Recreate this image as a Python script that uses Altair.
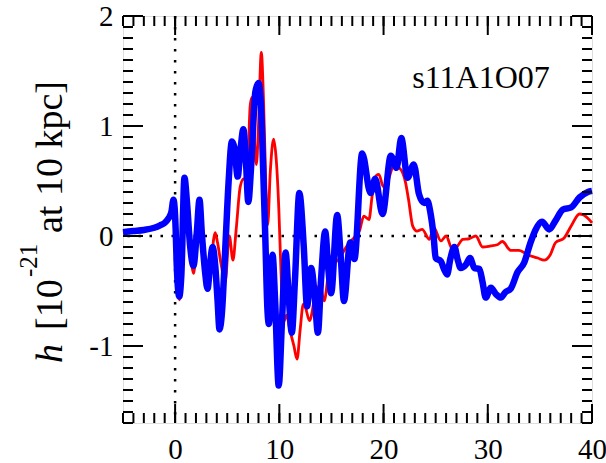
import altair as alt
import pandas as pd
import numpy as np

# ---- data ----
blue_t = [-5, -4, -3, -2, -1.44, -1, -0.64, -0.35, -0.16, 0.05,
          0.15, 0.4, 0.6, 0.9, 1.12, 1.44, 1.76, 2.08, 2.34, 2.56,
          2.88, 3.11, 3.37, 3.59, 3.85, 4.07, 4.26, 4.49, 4.81, 5.13,
          5.45, 5.7, 6.0, 6.25, 6.55, 6.8, 7.02, 7.3, 7.7, 8.0,
          8.27, 8.45, 8.65, 8.85, 9.0, 9.35, 9.6, 9.94, 10.26, 10.6,
          10.9, 11.2, 11.5, 11.92, 12.34, 12.66, 13.05, 13.4, 13.7, 14.0,
          14.4, 14.7, 14.97, 15.55, 15.9, 16.2, 16.8, 17.2, 17.95, 18.75,
          19.2, 19.9, 20.7, 21.25, 21.7, 22.3, 22.9, 23.4, 23.9, 24.2,
          24.5, 24.8, 25.0, 25.5, 25.8, 26.1, 26.4, 26.8, 27.1, 27.4,
          27.9, 28.3, 28.7, 29.2, 29.5, 29.8, 30.3, 30.8, 31.25, 31.7,
          32.2, 32.85, 33.5, 34.1, 34.6, 35.2, 35.9, 36.5, 37.2, 38.0,
          38.8, 39.6, 40]
blue_h = [0.035, 0.045, 0.055, 0.075, 0.097, 0.12, 0.16, 0.22, 0.33, 0.07,
          -0.25, -0.55, -0.35, 0.53, 0.33, -0.09, -0.27, 0.03, 0.33, 0.03,
          -0.33, -0.48, -0.24, -0.1, -0.27, -0.58, -0.85, -0.7, -0.12, 0.49,
          0.86, 0.8, 0.54, 0.76, 0.97, 0.67, 0.31, 0.64, 1.31, 1.39,
          1.12, 0.6, 0.0, -0.65, -0.8, -0.17, -0.6, -1.36, -0.76, -0.15,
          -0.55, -0.88, -0.4, 0.39, -0.09, -0.64, -0.29, -0.55, -0.88, -0.4,
          0.04, -0.3, -0.52, 0.19, -0.2, -0.59, -0.06, -0.21, 0.75, 0.39,
          0.52, 0.2, 0.73, 0.62, 0.89, 0.53, 0.65, 0.38, 0.3, 0.32,
          0.21, 0.0, -0.2, -0.23, -0.3, -0.35, -0.21, -0.1, -0.21, -0.29,
          -0.26, -0.2, -0.29, -0.3, -0.42, -0.56, -0.47, -0.53, -0.56, -0.51,
          -0.48, -0.33, -0.24, -0.06, 0.06, 0.13, 0.06, 0.14, 0.24, 0.26,
          0.35, 0.4, 0.41]

red_t = [-5, -4, -3, -2, -1.44, -1, -0.64, -0.35, -0.16, 0.05,
         0.15, 0.42, 0.6, 0.9, 1.12, 1.44, 1.78, 2.08, 2.34, 2.56,
         2.88, 3.11, 3.4, 3.85, 4.07, 4.4, 4.81, 5.2, 5.55, 5.85,
         6.25, 6.57, 6.9, 7.2, 7.37, 7.5, 7.8, 8.0, 8.27, 8.5,
         8.72, 8.88, 9.13, 9.45, 9.7, 9.95, 10.15, 10.4, 10.7, 11.0,
         11.4, 11.7, 12.0, 12.3, 12.5, 12.9, 13.5, 13.9, 14.3, 14.7,
         15.07, 15.7, 16.1, 16.5, 17.3, 17.7, 18.1, 18.6, 18.9, 19.3,
         19.55, 19.97, 20.4, 21.0, 21.6, 22.1, 22.4, 22.8, 23.2, 23.7,
         24.4, 24.8, 25.5, 26.0, 26.6, 27.1, 27.6, 28.2, 28.85, 29.5,
         30.3, 30.9, 31.4, 32.2, 33.0, 33.8, 34.8, 35.4, 36.0, 36.5,
         37.3, 38.0, 38.8, 39.2, 40]
red_h = [0.035, 0.045, 0.055, 0.075, 0.097, 0.12, 0.16, 0.22, 0.32, 0.07,
         -0.25, -0.58, -0.38, 0.5, 0.3, -0.12, -0.34, 0.0, 0.3, 0.0,
         -0.35, -0.48, -0.28, 0.03, -0.06, -0.25, -0.41, 0.0, -0.22, 0.05,
         0.45, 0.52, 0.49, 1.18, 1.26, 1.06, 0.65, 1.0, 1.67, 1.18,
         0.42, 0.1, 0.58, 0.88, 0.7, 0.25, -0.3, -0.78, -0.72, -0.85,
         -1.0, -1.12, -0.85, -0.62, -0.65, -0.77, -0.51, -0.45, -0.59, -0.35,
         -0.17, -0.23, -0.15, -0.09, 0.0, 0.05, 0.18, 0.15, 0.36, 0.55,
         0.56, 0.45, 0.5, 0.64, 0.61, 0.49, 0.33, 0.09, 0.045, 0.06,
         -0.03, 0.08, -0.045, 0.0, -0.12, -0.09, -0.03, -0.025, 0.0, -0.1,
         -0.09, -0.08, -0.05, -0.13, -0.13, -0.17, -0.2, -0.22, -0.17, -0.06,
         -0.02, 0.09, 0.2, 0.19, 0.12]

x_major = [0, 10, 20, 30, 40]
y_major = [-1, 0, 1, 2]
x_minor = list(range(-5, 41))
y_minor = [round(-1.7 + 0.1 * i, 1) for i in range(38)]

model_label = "s11A1O07"

# ---- chart ----
W, H = 469, 407
FONT = "Liberation Serif"
xs = alt.Scale(domain=[-5, 40], nice=False, zero=False)
ys = alt.Scale(domain=[-1.7, 2], nice=False, zero=False)

blue_df = pd.DataFrame({"t": blue_t, "h": blue_h})
red_df = pd.DataFrame({"t": red_t, "h": red_h})

x_axis = alt.Axis(values=x_major, tickSize=0, domain=False, grid=False,
                  labelFont=FONT, labelFontSize=29, labelColor="black",
                  labelPadding=12, labelFlush=False, title=None, format="d")
y_axis = alt.Axis(values=y_major, tickSize=0, domain=False, grid=False,
                  labelFont=FONT, labelFontSize=29, labelColor="black",
                  labelPadding=10, labelFlush=False, title=None,
                  labelExpr="datum.value < 0 ? '-' + abs(datum.value) : '' + datum.value")

X = lambda: alt.X("t:Q", scale=xs, axis=x_axis)
Y = lambda: alt.Y("h:Q", scale=ys, axis=y_axis)

zero_v = alt.Chart(pd.DataFrame({"t": [0]})).mark_rule(
    color="black", strokeWidth=2.5, strokeDash=[2.5, 8.5]
).encode(x=X())
zero_h = alt.Chart(pd.DataFrame({"h": [0]})).mark_rule(
    color="black", strokeWidth=2.5, strokeDash=[2.5, 8.5]
).encode(y=Y())

red_line = alt.Chart(red_df).mark_line(
    color="#ff0000", strokeWidth=2.8, interpolate="monotone"
).encode(x=X(), y=Y())
blue_line = alt.Chart(blue_df).mark_line(
    color="#0000ff", strokeWidth=6.5, interpolate="monotone"
).encode(x=X(), y=Y())

def xticks(vals, length):
    d = pd.DataFrame({"t": vals})
    b = alt.Chart(d).mark_rule(color="black", strokeWidth=2).encode(
        x=X(), y=alt.value(H), y2=alt.value(H - length))
    t = alt.Chart(d).mark_rule(color="black", strokeWidth=2).encode(
        x=X(), y=alt.value(0), y2=alt.value(length))
    return [b, t]

def yticks(vals, length):
    d = pd.DataFrame({"h": vals})
    l = alt.Chart(d).mark_rule(color="black", strokeWidth=2).encode(
        y=Y(), x=alt.value(0), x2=alt.value(length))
    r = alt.Chart(d).mark_rule(color="black", strokeWidth=2).encode(
        y=Y(), x=alt.value(W), x2=alt.value(W - length))
    return [l, r]

ticks = xticks(x_minor, 10) + xticks(x_major, 19) + yticks(y_minor, 10) + yticks(y_major, 20)

def txt(s, x, y, size, style="normal", angle=270, align="left"):
    return alt.Chart(pd.DataFrame({"s": [s]})).mark_text(
        font=FONT, fontSize=size, fontStyle=style, color="black",
        angle=angle, align=align, baseline="alphabetic"
    ).encode(text="s:N", x=alt.value(x), y=alt.value(y))

title_parts = [
    txt("h", -61, 347, 38, style="italic"),
    txt("[10", -61, 314, 38),
    txt("-21", -86, 261, 25),
    txt("at 10 kpc]", -61, 217, 38),
]
label = alt.Chart(pd.DataFrame({"s": [model_label]})).mark_text(
    font=FONT, fontSize=32, color="black", align="center", baseline="alphabetic"
).encode(text="s:N", x=alt.value(358), y=alt.value(72))

chart = alt.layer(
    zero_v, zero_h, red_line, blue_line, *ticks, *title_parts, label
).properties(
    width=W, height=H,
    autosize=alt.AutoSizeParams(type="none"),
    padding={"left": 123, "top": 16, "right": 14, "bottom": 40},
).configure_view(
    stroke="black", strokeWidth=3
).configure(background="white")

chart.save("out.html", embed_options={"renderer": "svg", "actions": False})
